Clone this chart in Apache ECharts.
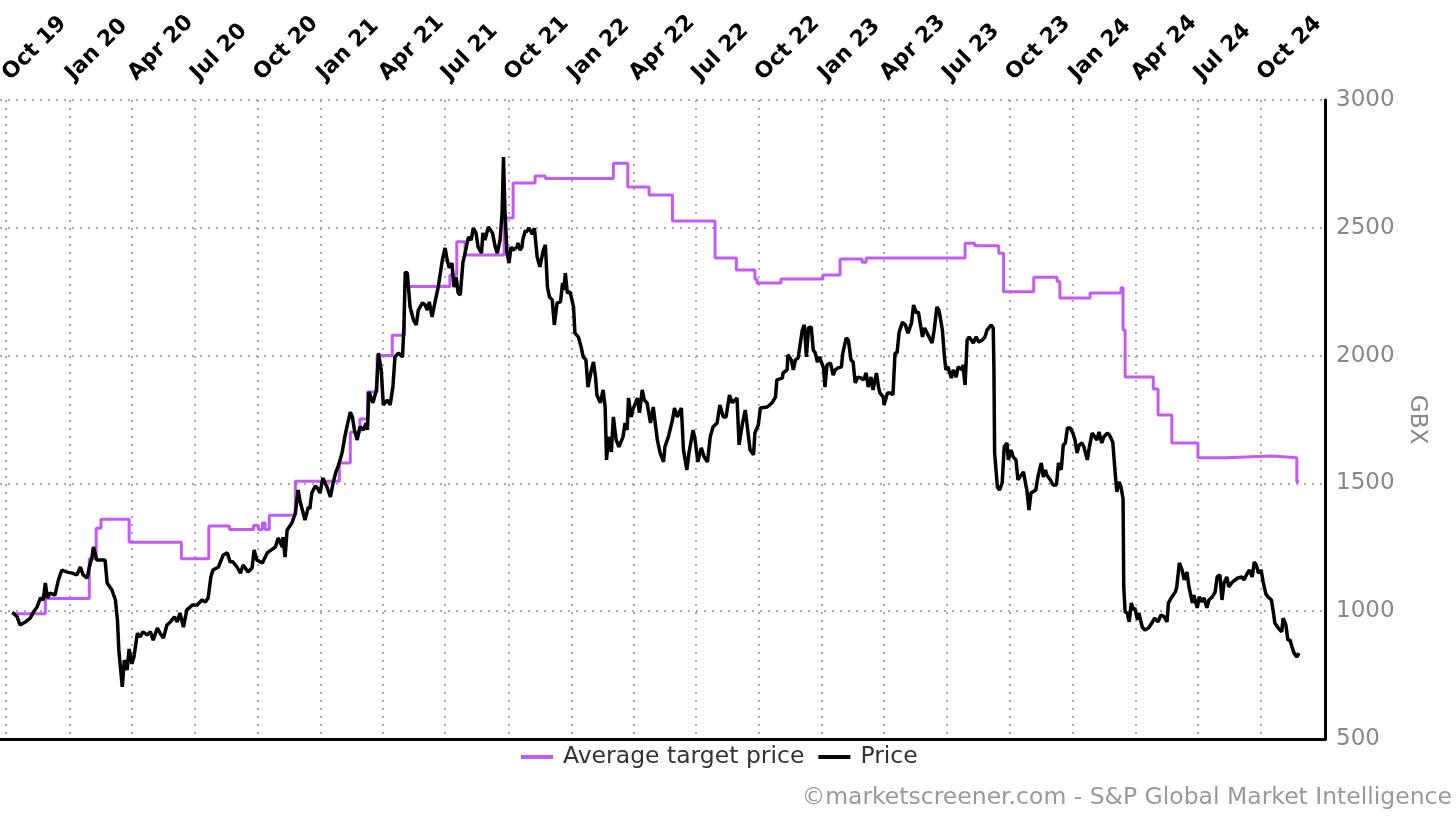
<!DOCTYPE html>
<html>
<head>
<meta charset="utf-8">
<script src="https://cdn.jsdelivr.net/npm/echarts@6/dist/echarts.min.js"></script>
<style>html,body{margin:0;padding:0;background:#fff;}#chart{width:1456px;height:818px;}</style>
</head>
<body>
<div id="chart"></div>
<script>
// ---- Data ----
const axisStart = '2019-09-22';
const axisEnd = '2025-01-02';
const tickDates = ['2019-10-01','2020-01-01','2020-04-01','2020-07-01','2020-10-01','2021-01-01','2021-04-01','2021-07-01','2021-10-01','2022-01-01','2022-04-01','2022-07-01','2022-10-01','2023-01-01','2023-04-01','2023-07-01','2023-10-01','2024-01-01','2024-04-01','2024-07-01','2024-10-01'];
const tickLabels = ['Oct 19','Jan 20','Apr 20','Jul 20','Oct 20','Jan 21','Apr 21','Jul 21','Oct 21','Jan 22','Apr 22','Jul 22','Oct 22','Jan 23','Apr 23','Jul 23','Oct 23','Jan 24','Apr 24','Jul 24','Oct 24'];
const yTicks = [500, 1000, 1500, 2000, 2500, 3000];

const targetPrice = [
['2019-10-10',990],['2019-11-27',1050],['2020-01-30',1205],['2020-02-09',1325],['2020-02-16',1360],
['2020-03-28',1270],['2020-06-12',1205],['2020-07-22',1333],['2020-08-21',1320],['2020-09-25',1335],
['2020-10-02',1320],['2020-10-08',1345],['2020-10-12',1320],['2020-10-18',1375],['2020-11-25',1508],
['2021-01-28',1580],['2021-02-13',1700],['2021-02-27',1752],['2021-03-10',1858],['2021-03-24',2000],
['2021-04-15',2080],['2021-05-03',2270],['2021-07-08',2315],['2021-07-18',2445],['2021-07-30',2394],
['2021-09-25',2538],['2021-10-08',2675],['2021-11-09',2703],['2021-11-24',2693],['2022-03-03',2753],
['2022-03-24',2660],['2022-04-24',2628],['2022-05-28',2527],['2022-07-29',2382],['2022-08-29',2335],
['2022-09-25',2300],['2022-09-28',2284],['2022-11-02',2300],['2023-01-02',2315],['2023-01-27',2378],
['2023-02-28',2365],['2023-03-06',2382],['2023-07-28',2440],['2023-08-11',2430],['2023-09-15',2400],
['2023-09-22',2250],['2023-11-05',2307],['2023-12-09',2290],['2023-12-13',2225],['2024-01-26',2245],
['2024-03-11',2265],['2024-03-14',2100],['2024-03-17',1916],['2024-04-27',1869],['2024-05-04',1768],
['2024-05-24',1658],['2024-07-01',1600],['2024-08-10',1607],['2024-10-17',1600],['2024-11-22',1506],
['2024-11-25',1506]
];

const price = [
['2019-10-10',996],['2019-10-17',978],['2019-10-21',946],['2019-10-29',958],['2019-11-05',973],
['2019-11-09',993],['2019-11-15',1017],['2019-11-20',1052],['2019-11-24',1044],['2019-11-27',1110],
['2019-11-30',1052],['2019-12-04',1071],['2019-12-11',1063],['2019-12-16',1122],['2019-12-21',1161],
['2019-12-29',1153],['2020-01-05',1149],['2020-01-12',1142],['2020-01-17',1173],['2020-01-21',1142],
['2020-01-27',1130],['2020-01-30',1173],['2020-02-03',1212],['2020-02-05',1251],['2020-02-10',1200],
['2020-02-15',1200],['2020-02-22',1200],['2020-02-25',1110],['2020-03-03',1083],['2020-03-08',1044],
['2020-03-11',966],['2020-03-13',848],['2020-03-18',704],['2020-03-21',809],['2020-03-25',770],
['2020-03-28',852],['2020-04-01',794],['2020-04-04',821],['2020-04-09',914],['2020-04-13',899],
['2020-04-17',919],['2020-04-23',907],['2020-04-28',919],['2020-05-02',887],['2020-05-08',934],
['2020-05-12',914],['2020-05-17',895],['2020-05-22',946],['2020-05-27',958],['2020-06-02',978],
['2020-06-06',958],['2020-06-10',993],['2020-06-15',938],['2020-06-20',1005],['2020-06-28',1024],
['2020-07-05',1024],['2020-07-12',1044],['2020-07-17',1036],['2020-07-21',1052],['2020-07-25',1134],
['2020-07-28',1161],['2020-08-05',1173],['2020-08-12',1220],['2020-08-18',1228],['2020-08-22',1193],
['2020-08-26',1193],['2020-09-01',1173],['2020-09-06',1149],['2020-09-10',1181],['2020-09-17',1153],
['2020-09-23',1169],['2020-09-26',1240],['2020-09-30',1200],['2020-10-08',1189],['2020-10-15',1228],
['2020-10-21',1240],['2020-10-27',1251],['2020-10-31',1286],['2020-11-06',1251],['2020-11-07',1290],
['2020-11-10',1212],['2020-11-13',1318],['2020-11-20',1345],['2020-11-25',1384],['2020-11-29',1474],
['2020-12-02',1428],['2020-12-09',1357],['2020-12-14',1408],['2020-12-16',1400],['2020-12-19',1463],
['2020-12-24',1490],['2020-12-27',1482],['2020-12-31',1463],['2021-01-04',1521],['2021-01-10',1486],
['2021-01-15',1447],['2021-01-19',1502],['2021-01-23',1545],['2021-01-26',1564],['2021-02-01',1619],
['2021-02-05',1682],['2021-02-08',1721],['2021-02-13',1779],['2021-02-16',1760],['2021-02-19',1709],
['2021-02-23',1670],['2021-02-27',1721],['2021-03-04',1709],['2021-03-08',1736],['2021-03-10',1709],
['2021-03-12',1858],['2021-03-18',1815],['2021-03-23',1866],['2021-03-26',2010],['2021-03-30',1944],
['2021-04-02',1807],['2021-04-08',1826],['2021-04-12',1807],['2021-04-16',1877],['2021-04-19',1995],
['2021-04-24',2010],['2021-04-30',1995],['2021-05-02',2112],['2021-05-04',2327],['2021-05-07',2323],
['2021-05-11',2190],['2021-05-16',2139],['2021-05-20',2120],['2021-05-23',2178],['2021-05-29',2206],
['2021-06-02',2198],['2021-06-05',2178],['2021-06-08',2210],['2021-06-12',2151],['2021-06-17',2218],
['2021-06-21',2268],['2021-06-27',2374],['2021-07-01',2421],['2021-07-04',2374],['2021-07-07',2343],
['2021-07-11',2362],['2021-07-14',2268],['2021-07-17',2308],['2021-07-20',2245],['2021-07-23',2237],
['2021-07-27',2366],['2021-07-31',2413],['2021-08-04',2464],['2021-08-08',2452],['2021-08-11',2499],
['2021-08-15',2480],['2021-08-18',2425],['2021-08-23',2401],['2021-08-25',2480],['2021-08-28',2452],
['2021-09-02',2503],['2021-09-08',2480],['2021-09-12',2425],['2021-09-15',2401],['2021-09-19',2452],
['2021-09-22',2558],['2021-09-24',2777],['2021-09-26',2575],['2021-09-29',2405],['2021-10-02',2362],
['2021-10-05',2425],['2021-10-08',2413],['2021-10-14',2425],['2021-10-15',2441],['2021-10-18',2413],
['2021-10-21',2425],['2021-10-22',2452],['2021-10-26',2491],['2021-10-27',2483],['2021-10-31',2499],
['2021-11-05',2475],['2021-11-08',2499],['2021-11-12',2386],['2021-11-16',2347],['2021-11-21',2413],
['2021-11-24',2433],['2021-11-27',2268],['2021-11-30',2229],['2021-12-04',2218],['2021-12-07',2120],
['2021-12-11',2206],['2021-12-16',2210],['2021-12-19',2284],['2021-12-21',2257],['2021-12-23',2323],
['2021-12-26',2245],['2021-12-30',2249],['2022-01-04',2190],['2022-01-06',2088],['2022-01-11',2073],
['2022-01-15',2034],['2022-01-18',1995],['2022-01-22',1983],['2022-01-25',1877],['2022-01-30',1944],
['2022-02-02',1975],['2022-02-05',1916],['2022-02-07',1846],['2022-02-12',1815],['2022-02-16',1866],
['2022-02-19',1799],['2022-02-21',1592],['2022-02-24',1682],['2022-02-28',1623],['2022-03-03',1760],
['2022-03-07',1670],['2022-03-11',1643],['2022-03-17',1682],['2022-03-20',1736],['2022-03-23',1709],
['2022-03-25',1834],['2022-03-29',1760],['2022-03-31',1787],['2022-04-07',1834],['2022-04-10',1776],
['2022-04-14',1866],['2022-04-17',1826],['2022-04-21',1815],['2022-04-26',1736],['2022-04-30',1799],
['2022-05-06',1670],['2022-05-10',1619],['2022-05-15',1584],['2022-05-17',1643],['2022-05-22',1682],
['2022-05-28',1748],['2022-05-31',1795],['2022-06-04',1760],['2022-06-10',1795],['2022-06-13',1631],
['2022-06-18',1553],['2022-06-21',1619],['2022-06-27',1709],['2022-06-30',1670],['2022-07-04',1584],
['2022-07-09',1639],['2022-07-13',1604],['2022-07-18',1584],['2022-07-22',1682],['2022-07-26',1721],
['2022-08-01',1736],['2022-08-05',1807],['2022-08-10',1760],['2022-08-14',1760],['2022-08-19',1846],
['2022-08-23',1815],['2022-08-27',1826],['2022-08-30',1834],['2022-09-02',1651],['2022-09-07',1736],
['2022-09-11',1787],['2022-09-14',1721],['2022-09-18',1631],['2022-09-23',1612],['2022-09-25',1697],
['2022-09-30',1729],['2022-10-03',1795],['2022-10-13',1799],['2022-10-20',1815],['2022-10-25',1838],
['2022-10-27',1905],['2022-11-04',1912],['2022-11-05',1932],['2022-11-11',1944],['2022-11-12',2003],
['2022-11-17',1983],['2022-11-20',1944],['2022-11-23',1983],['2022-11-27',1991],['2022-12-03',2100],
['2022-12-06',2120],['2022-12-09',1995],['2022-12-12',2108],['2022-12-16',2112],['2022-12-19',2022],
['2022-12-22',2010],['2022-12-25',1975],['2022-12-28',1995],['2023-01-03',1952],['2023-01-05',1877],
['2023-01-08',1964],['2023-01-13',1971],['2023-01-17',1924],['2023-01-20',1944],['2023-01-24',1952],
['2023-01-29',1956],['2023-01-31',2010],['2023-02-05',2069],['2023-02-08',2061],['2023-02-12',1983],
['2023-02-15',1975],['2023-02-18',1893],['2023-02-22',1916],['2023-02-27',1912],['2023-03-02',1905],
['2023-03-06',1932],['2023-03-09',1877],['2023-03-13',1916],['2023-03-16',1866],['2023-03-21',1932],
['2023-03-24',1877],['2023-03-26',1854],['2023-03-31',1838],['2023-04-01',1807],['2023-04-06',1854],
['2023-04-10',1854],['2023-04-14',1846],['2023-04-17',2010],['2023-04-20',2010],['2023-04-23',2092],
['2023-04-28',2131],['2023-05-02',2120],['2023-05-06',2088],['2023-05-11',2127],['2023-05-14',2198],
['2023-05-18',2167],['2023-05-21',2171],['2023-05-27',2073],['2023-05-30',2108],['2023-06-04',2081],
['2023-06-10',2049],['2023-06-13',2100],['2023-06-17',2190],['2023-06-20',2178],['2023-06-25',2100],
['2023-06-28',1995],['2023-06-30',1944],['2023-07-03',1956],['2023-07-08',1912],['2023-07-11',1944],
['2023-07-15',1916],['2023-07-18',1956],['2023-07-24',1944],['2023-07-25',1964],['2023-07-28',1885],
['2023-07-31',2061],['2023-08-03',2073],['2023-08-09',2049],['2023-08-13',2073],['2023-08-17',2053],
['2023-08-22',2061],['2023-08-26',2073],['2023-08-29',2100],['2023-09-04',2120],['2023-09-07',2108],
['2023-09-08',1950],['2023-09-09',1620],['2023-09-13',1486],['2023-09-16',1474],['2023-09-20',1502],
['2023-09-23',1643],['2023-09-27',1658],['2023-09-29',1592],['2023-10-03',1631],['2023-10-06',1604],
['2023-10-10',1592],['2023-10-13',1514],['2023-10-18',1533],['2023-10-21',1545],['2023-10-25',1486],
['2023-10-26',1474],['2023-10-29',1396],['2023-11-01',1463],['2023-11-04',1467],['2023-11-08',1474],
['2023-11-11',1525],['2023-11-16',1580],['2023-11-19',1525],['2023-11-22',1553],['2023-11-24',1533],
['2023-11-29',1514],['2023-12-03',1494],['2023-12-08',1494],['2023-12-11',1580],['2023-12-15',1553],
['2023-12-18',1650],['2023-12-21',1658],['2023-12-24',1717],['2023-12-28',1717],['2024-01-01',1697],
['2024-01-04',1670],['2024-01-07',1619],['2024-01-10',1650],['2024-01-14',1658],['2024-01-17',1643],
['2024-01-22',1592],['2024-01-25',1643],['2024-01-29',1697],['2024-01-31',1701],['2024-02-05',1670],
['2024-02-08',1701],['2024-02-12',1658],['2024-02-15',1682],['2024-02-20',1697],['2024-02-23',1690],
['2024-02-28',1662],['2024-03-03',1525],['2024-03-05',1467],['2024-03-08',1506],['2024-03-11',1486],
['2024-03-14',1440],['2024-03-15',1095],['2024-03-17',997],['2024-03-20',993],['2024-03-23',958],
['2024-03-26',1032],['2024-03-29',1005],['2024-03-31',1013],['2024-04-04',966],['2024-04-06',993],
['2024-04-11',938],['2024-04-15',926],['2024-04-20',934],['2024-04-25',954],['2024-04-29',973],
['2024-05-04',958],['2024-05-08',985],['2024-05-13',978],['2024-05-17',958],['2024-05-19',1032],
['2024-05-24',1056],['2024-05-29',1075],['2024-05-31',1091],['2024-06-04',1189],['2024-06-08',1161],
['2024-06-11',1122],['2024-06-15',1153],['2024-06-18',1095],['2024-06-23',1032],['2024-06-25',1063],
['2024-06-30',1013],['2024-07-03',1056],['2024-07-07',1036],['2024-07-10',1052],['2024-07-14',1013],
['2024-07-17',1044],['2024-07-22',1056],['2024-07-26',1075],['2024-07-29',1134],['2024-08-02',1142],
['2024-08-05',1044],['2024-08-08',1110],['2024-08-12',1134],['2024-08-15',1095],['2024-08-20',1114],
['2024-08-24',1122],['2024-08-28',1130],['2024-09-03',1134],['2024-09-06',1122],['2024-09-11',1149],
['2024-09-14',1161],['2024-09-18',1134],['2024-09-21',1193],['2024-09-24',1181],['2024-09-27',1149],
['2024-10-01',1161],['2024-10-04',1114],['2024-10-08',1067],['2024-10-11',1056],['2024-10-16',1044],
['2024-10-19',993],['2024-10-21',954],['2024-10-26',934],['2024-10-31',919],['2024-11-02',973],
['2024-11-06',946],['2024-11-09',887],['2024-11-12',887],['2024-11-15',860],['2024-11-18',836],
['2024-11-22',821],['2024-11-25',836]
];

// ---- Build daily category axis ----
function ymd(d){return d.toISOString().slice(0,10);}
const categories = [];
for (let t = Date.parse(axisStart + 'T00:00:00Z'); t <= Date.parse(axisEnd + 'T00:00:00Z'); t += 86400000) {
  categories.push(ymd(new Date(t)));
}
const catIndex = {};
categories.forEach((c, i) => { catIndex[c] = i; });
const tickMap = {};
tickDates.forEach((d, i) => { tickMap[d] = tickLabels[i]; });
const toSeries = arr => arr.map(p => [catIndex[p[0]], p[1]]);

const FONT = 'DejaVu Sans';
const chart = echarts.init(document.getElementById('chart'), null, {renderer: 'canvas'});
chart.setOption({
  animation: false,
  backgroundColor: '#fff',
  grid: {left: 0, right: 131, top: 100, bottom: 79, containLabel: false, outerBoundsMode: 'none'},
  legend: {
    data: ['Average target price', 'Price'],
    top: 740, left: 516,
    icon: 'rect', itemWidth: 32, itemHeight: 4, itemGap: 14,
    textStyle: {fontFamily: FONT, fontSize: 23.5, color: '#333', padding: [0, 0, 0, 5]}
  },
  xAxis: [{
    type: 'category', data: categories, position: 'top', boundaryGap: false,
    axisLine: {show: false, onZero: false},
    axisTick: {show: false},
    axisLabel: {
      show: true, rotate: -45, margin: 23, align: 'left', verticalAlign: 'middle',
      interval: (i, v) => tickMap[v] !== undefined,
      formatter: v => tickMap[v] || '',
      fontFamily: FONT, fontSize: 22, fontWeight: 'bold', color: '#000'
    },
    splitLine: {show: true, interval: (i, v) => tickMap[v] !== undefined,
      lineStyle: {color: '#aaa', width: 2, type: [2, 6]}}
  }, {
    type: 'category', data: categories, position: 'bottom', boundaryGap: false,
    axisLine: {show: true, onZero: false, lineStyle: {color: '#000', width: 3}},
    axisTick: {show: false}, axisLabel: {show: false}, splitLine: {show: false}
  }],
  yAxis: {
    type: 'value', position: 'right', min: yTicks[0], max: yTicks[yTicks.length - 1], interval: 500,
    name: 'GBX', nameLocation: 'middle', nameGap: 67, nameRotate: -90,
    nameTextStyle: {fontFamily: FONT, fontSize: 23, color: '#888'},
    axisLine: {show: true, onZero: false, lineStyle: {color: '#000', width: 3}},
    axisTick: {show: false},
    axisLabel: {margin: 11, fontFamily: FONT, fontSize: 23, color: '#888', formatter: v => String(v)},
    splitLine: {show: true, lineStyle: {color: '#aaa', width: 2, type: [2, 6]}}
  },
  series: [{
    name: 'Average target price', type: 'line', step: 'end', symbol: 'none',
    data: toSeries(targetPrice),
    lineStyle: {color: '#c35af7', width: 3}, itemStyle: {color: '#c35af7'}
  }, {
    name: 'Price', type: 'line', symbol: 'none',
    data: toSeries(price),
    lineStyle: {color: '#000', width: 3.5}, itemStyle: {color: '#000'}
  }],
  graphic: [{
    type: 'text', right: 4, top: 786,
    style: {text: '©marketscreener.com - S&P Global Market Intelligence', fontFamily: FONT, fontSize: 23.5, fill: '#999'}
  }]
});
</script>
</body>
</html>
